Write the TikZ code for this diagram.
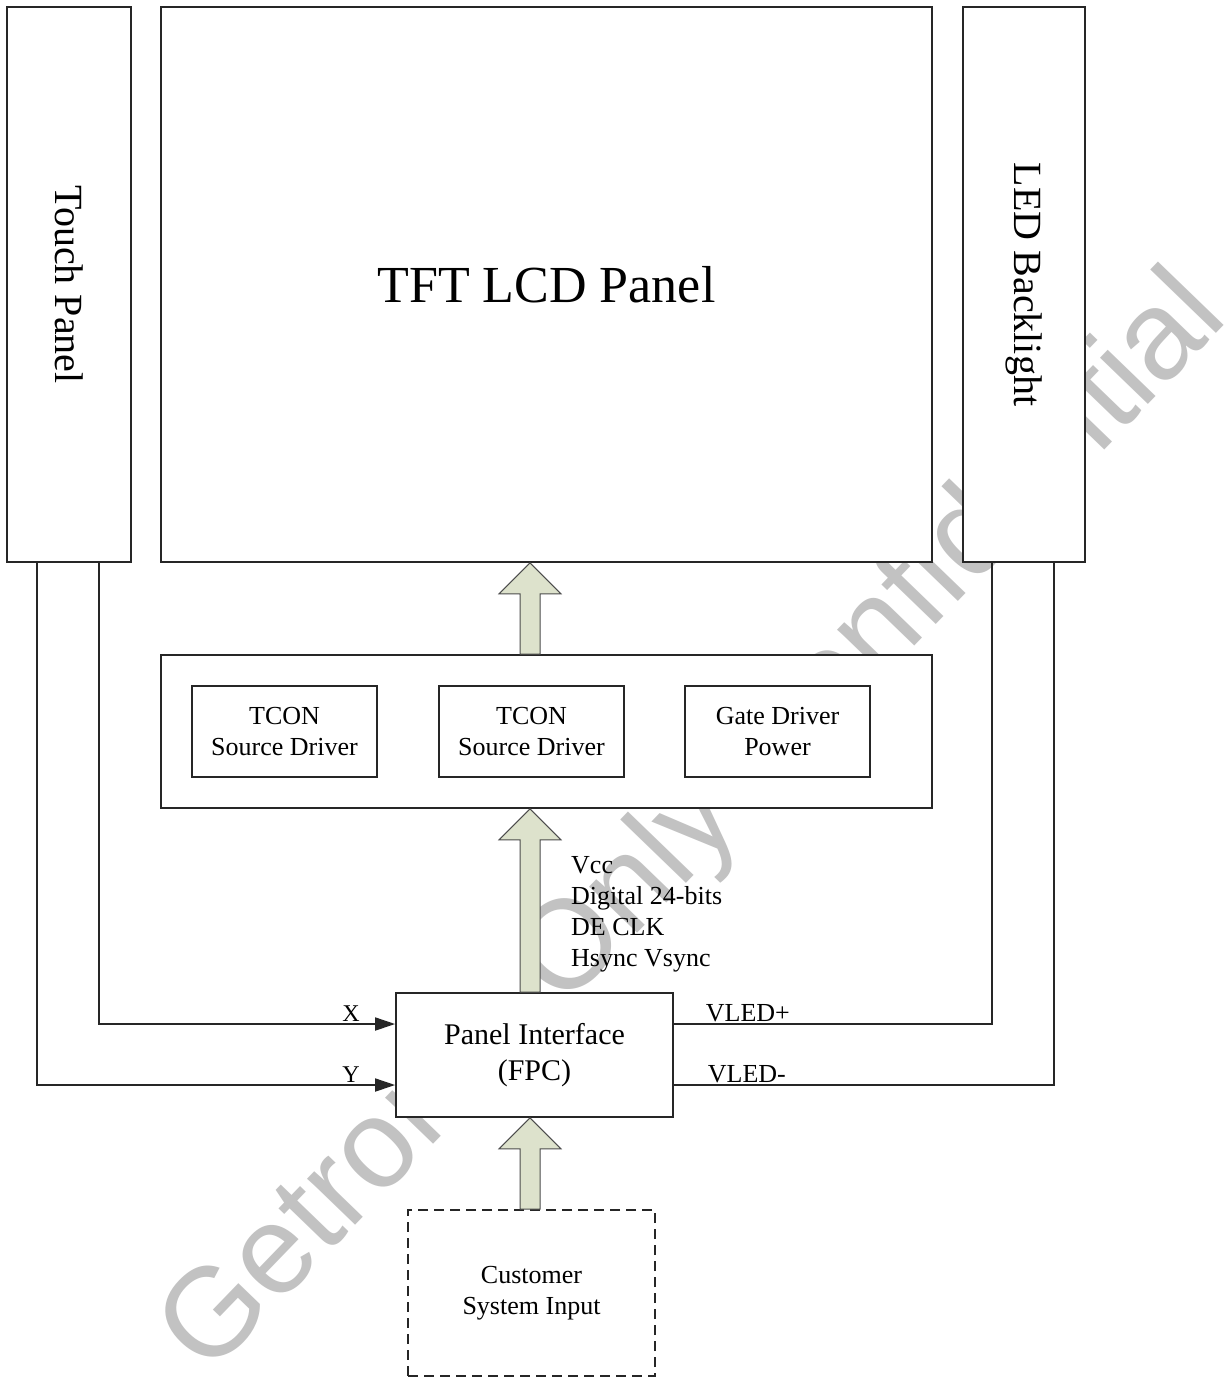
\documentclass[tikz,border=0pt]{standalone}
\usepackage{fontspec}
\setmainfont{Liberation Serif}
\newfontfamily\wmfont{Liberation Sans}
\usetikzlibrary{arrows.meta,calc}
\definecolor{arrowfill}{RGB}{221,226,204}
\definecolor{wmgrey}{RGB}{194,194,194}
\newcommand\blockarrow[2]{%
  \filldraw[barrow] let \p1=(#1), \p2=(#2) in
    (\x1-10pt,\y1) -- (\x1-10pt,\y2-31pt) -- (\x1-31pt,\y2-31pt) -- (\x1,\y2)
    -- (\x1+31pt,\y2-31pt) -- (\x1+10pt,\y2-31pt) -- (\x1+10pt,\y1) -- cycle;}
\begin{document}
\begin{tikzpicture}[x=1pt,y=-1pt,
  box/.style={draw=black!85, line width=1.8pt, fill=white, inner sep=0pt},
  dbox/.style={box, dash pattern=on 10pt off 6pt},
  sig/.style={line width=1.8pt, draw=black!85},
  tip/.style={-{Triangle[length=20pt,width=13pt]}},
  barrow/.style={fill=arrowfill, draw=black!70, line width=1pt, line join=miter},
  t26/.style={font=\fontsize{26}{31}\selectfont, align=center, inner sep=0pt},
  t40/.style={font=\fontsize{40}{46}\selectfont, inner sep=0pt},
  lbl/.style={font=\fontsize{24}{28}\selectfont, inner sep=2pt}]
\useasboundingbox (0,0) rectangle (1225,1378);
\fill[white] (0,0) rectangle (1225,1378);
% watermark
\node[font=\wmfont\fontsize{126}{126}\selectfont, text=wmgrey, rotate=46, inner sep=0pt] (wm) at (696,826) {Getronic Only Confidential};
% boxes
\node[box, minimum width=124pt, minimum height=555pt] (touch) at (69,284.5) {};
\node[box, minimum width=771pt, minimum height=555pt] (tft) at (546.5,284.5) {};
\node[box, minimum width=122pt, minimum height=555pt] (led) at (1024,284.5) {};
\node[t40, rotate=-90] (touchT) at (touch.center) {Touch Panel};
\node[font=\fontsize{52}{60}\selectfont, inner sep=0pt] (tftT) at (tft.center) {TFT LCD Panel};
\node[t40, rotate=-90] (ledT) at (led.center) {LED Backlight};
\node[box, minimum width=771pt, minimum height=153pt] (mid) at (546.5,731.5) {};
\node[box, t26, minimum width=185pt, minimum height=91pt] (b1) at (284.5,731.5) {TCON\\Source Driver};
\node[box, t26, minimum width=185pt, minimum height=91pt] (b2) at (531.5,731.5) {TCON\\Source Driver};
\node[box, t26, minimum width=185pt, minimum height=91pt] (b3) at (777.5,731.5) {Gate Driver\\Power};
\node[box, minimum width=277pt, minimum height=124pt, align=center,
      font=\fontsize{30}{36}\selectfont] (pif) at (534.5,1055) {Panel Interface\\(FPC)};
\node[dbox, t26, minimum width=247pt, minimum height=166pt] (cust) at (531.5,1293) {Customer\\System Input};
% block arrows
\coordinate (ax) at (530,0);
\blockarrow{ax |- mid.north}{ax |- tft.south}
\blockarrow{ax |- pif.north}{ax |- mid.south}
\blockarrow{ax |- cust.north}{ax |- pif.south}
\node[t26, align=left, anchor=west] (sigs) at (571,914) {Vcc\\Digital 24-bits\\DE CLK\\Hsync Vsync};
% signal lines
\draw[sig, tip] ([xshift=93pt]touch.south west) |- ([yshift=31pt]pif.west);
\draw[sig, tip] ([xshift=31pt]touch.south west) |- ([yshift=-30pt]pif.west);
\draw[sig] ([yshift=31pt]pif.east) -| ([xshift=30pt]led.south west);
\draw[sig] ([yshift=-30pt]pif.east) -| ([xshift=92pt]led.south west);
\node[lbl, anchor=south] (xl) at ([xshift=-44pt,yshift=31pt]pif.west) {X};
\node[lbl, anchor=south] (yl) at ([xshift=-44pt,yshift=-30pt]pif.west) {Y};
\node[lbl, font=\fontsize{26}{30}\selectfont, anchor=south] (vp) at ([xshift=74pt,yshift=31pt]pif.east) {VLED+};
\node[lbl, font=\fontsize{26}{30}\selectfont, anchor=south] (vm) at ([xshift=73pt,yshift=-30pt]pif.east) {VLED-};
\end{tikzpicture}
\end{document}
